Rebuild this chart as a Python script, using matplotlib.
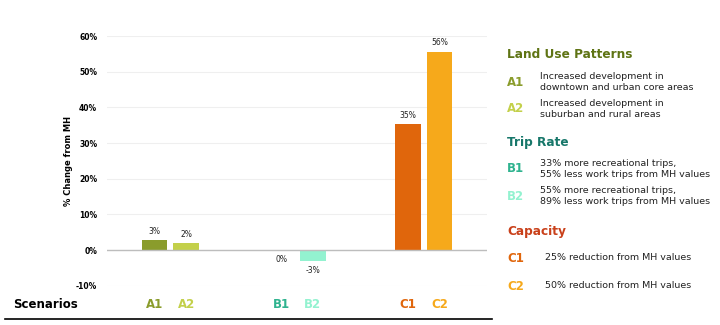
import matplotlib
matplotlib.use("Agg")
import matplotlib.pyplot as plt
from matplotlib.lines import Line2D

plt.rcParams['font.family'] = ['DejaVu Sans']

# data
scenarios = ['A1', 'A2', 'B1', 'B2', 'C1', 'C2']
positions = [0, 1, 4, 5, 8, 9]
values = [2.8, 2.0, 0.0, -3.0, 35.2, 55.6]
colors = ['#8a9c2c', '#c3d04a', '#2fb38f', '#93f2d0', '#e0660c', '#f6a91b']
yticks = [-10, 0, 10, 20, 30, 40, 50, 60]

groups = ['Land Use Patterns', 'Trip Rate', 'Capacity']
group_colors = ['#5f7414', '#17776a', '#c9401a']
descriptions = [
    'Increased development in\ndowntown and urban core areas',
    'Increased development in\nsuburban and rural areas',
    '33% more recreational trips,\n55% less work trips from MH values',
    '55% more recreational trips,\n89% less work trips from MH values',
    '25% reduction from MH values',
    '50% reduction from MH values',
]

fig = plt.figure(figsize=(7.2, 3.25), dpi=100)
ax = fig.add_axes([107 / 720, 1 - 285.7 / 325, 380 / 720, 249.7 / 325])

ax.bar(positions, values, width=0.82, color=colors, zorder=3)
ax.set_xlim(-1.5, 10.5)
ax.set_ylim(-10, 60)
ax.set_yticks(yticks)
ax.set_yticklabels([f'{t}%' for t in yticks], fontsize=5.5, fontweight='bold')
ax.set_xticks([])
ax.tick_params(axis='y', length=0, pad=7)
for s in ax.spines.values():
    s.set_visible(False)
ax.grid(axis='y', color='#efefef', linewidth=0.8, zorder=0)
ax.axhline(0, color='#bdbdbd', linewidth=1.0, zorder=4)
ax.set_ylabel('% Change from MH', fontsize=6, fontweight='bold', labelpad=2)

for x, v in zip(positions, values):
    if v > 0:
        ax.text(x, v + 1.2, f'{round(v)}%', ha='center', va='bottom',
                fontsize=5.5, color='#222222')
    else:
        ax.text(x, v - 1.5, f'{round(v)}%', ha='center', va='top',
                fontsize=5.5, color='#222222')

# scenario labels under the plot
fig.text(13 / 720, 1 - 305 / 325, 'Scenarios', fontsize=8.5, fontweight='bold',
         ha='left', va='center')
for x, name, c in zip(positions, scenarios, colors):
    xf = ax.transData.transform((x, 0))[0] / 720
    fig.text(xf, 1 - 305 / 325, name, fontsize=8.5, fontweight='bold', color=c,
             ha='center', va='center')
fig.add_artist(Line2D([5 / 720, 492 / 720], [1 - 319 / 325] * 2,
                      color='black', linewidth=1.2))

# legend on the right
title_y = [54, 143, 231]
item_y = [82, 109, 169, 196, 258, 286]
desc_x = [540, 540, 540, 540, 545, 545]
for g, c, y in zip(groups, group_colors, title_y):
    fig.text(507 / 720, 1 - y / 325, g, fontsize=8.7, fontweight='bold',
             color=c, ha='left', va='center')
for name, c, y, d, dx in zip(scenarios, colors, item_y, descriptions, desc_x):
    fig.text(507 / 720, 1 - y / 325, name, fontsize=8.5, fontweight='bold',
             color=c, ha='left', va='center')
    fig.text(dx / 720, 1 - y / 325, d, fontsize=6.8, color='#222222',
             ha='left', va='center', linespacing=1.2)

fig.savefig('out.png', dpi=100)
